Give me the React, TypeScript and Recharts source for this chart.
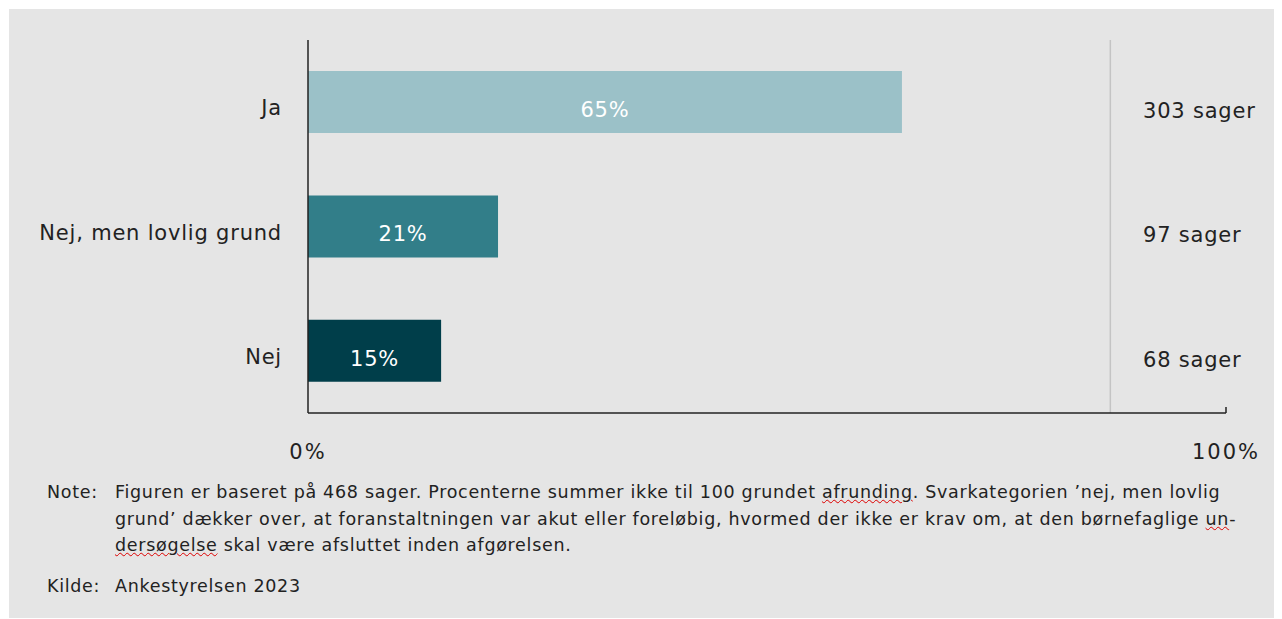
import { BarChart, Bar, XAxis, YAxis, Cell, LabelList, ReferenceLine } from 'recharts'

const categories = ['Ja', 'Nej, men lovlig grund', 'Nej']
const shares = [64.7, 20.7, 14.5]
const shareLabels = ['65%', '21%', '15%']
const caseCounts = [303, 97, 68]
const xTicks = [0, 100]
const separatorAt = 87.4

const barColors = ['#9bc1c8', '#327e89', '#003e4a']
const labelFont = 'DejaVu Sans'
const noteFont = 'DejaVu Sans'
const ink = '#222'

const data = categories.map((name, i) => ({
  name,
  share: shares[i],
  label: shareLabels[i],
  cases: `${caseCounts[i]} sager`,
}))

const txt = { fontSize: 21, fontFamily: labelFont, letterSpacing: 0.8 }

function XTick({ x, y, payload }: any) {
  return (
    <g>
      {payload.value === 100 && <line x1={x} x2={x} y1={y - 6} y2={y} stroke={ink} strokeWidth={1.5} />}
      <text x={x} y={y + 46} textAnchor="middle" {...txt} letterSpacing={2} fill={ink}>
        {payload.value}%
      </text>
    </g>
  )
}

function YTick({ x, y, payload }: any) {
  return (
    <text x={x} y={y} dy={13} textAnchor="end" {...txt} fill={ink}>
      {payload.value}
    </text>
  )
}

function ShareLabel({ x, y, width, height, value }: any) {
  return (
    <text x={x + width / 2} y={y + height / 2} dy={15} textAnchor="middle" {...txt} fill="#fff">
      {value}
    </text>
  )
}

function CasesLabel({ x, y, height, value }: any) {
  return (
    <text x={x + 835} y={y + height / 2} dy={16} {...txt} fill={ink}>
      {value}
    </text>
  )
}

const wavy = { textDecoration: 'underline wavy #d00', textDecorationThickness: 1 } as const

export default function App() {
  return (
    <div style={{ padding: '1px 0 0 1px' }}>
      <div style={{ position: 'relative', width: 1265, height: 609, background: '#e5e5e5' }}>
        <BarChart
          width={1265}
          height={470}
          data={data}
          layout="vertical"
          barCategoryGap="25%"
          margin={{ top: 31, right: 48, left: 0, bottom: 6 }}
        >
          <XAxis
            type="number"
            domain={[0, 100]}
            ticks={xTicks}
            height={60}
            axisLine={{ stroke: ink, strokeWidth: 1.5 }}
            tickLine={false}
            tickSize={0}
            tickMargin={0}
            tick={<XTick />}
          />
          <YAxis
            type="category"
            dataKey="name"
            width={299}
            axisLine={{ stroke: ink, strokeWidth: 1.5 }}
            tickLine={false}
            tickSize={0}
            tickMargin={26}
            tick={<YTick />}
          />
          <ReferenceLine x={separatorAt} stroke="#c4c4c4" strokeWidth={1.5} />
          <Bar dataKey="share" isAnimationActive={false}>
            {data.map((d, i) => (
              <Cell key={d.name} fill={barColors[i]} />
            ))}
            <LabelList dataKey="label" content={<ShareLabel />} />
            <LabelList dataKey="cases" content={<CasesLabel />} />
          </Bar>
        </BarChart>

        <div
          style={{
            position: 'absolute',
            left: 38,
            top: 470,
            width: 1225,
            fontFamily: noteFont,
            fontSize: 17.5,
            letterSpacing: 0.7,
            lineHeight: '26.5px',
            color: ink,
            whiteSpace: 'nowrap',
          }}
        >
          <div style={{ display: 'flex' }}>
            <div style={{ width: 68 }}>Note:</div>
            <div>
              <div>
                Figuren er baseret på 468 sager. Procenterne summer ikke til 100 grundet <span style={wavy}>afrunding</span>.  Svarkategorien ’nej, men lovlig
              </div>
              <div>
                grund’ dækker over, at foranstaltningen var akut eller foreløbig, hvormed der ikke er krav om, at den børnefaglige <span style={wavy}>un</span>-
              </div>
              <div>
                <span style={wavy}>dersøgelse</span> skal være afsluttet inden afgørelsen.
              </div>
            </div>
          </div>
          <div style={{ display: 'flex', marginTop: 14 }}>
            <div style={{ width: 68 }}>Kilde:</div>
            <div>Ankestyrelsen 2023</div>
          </div>
        </div>
      </div>
    </div>
  )
}
